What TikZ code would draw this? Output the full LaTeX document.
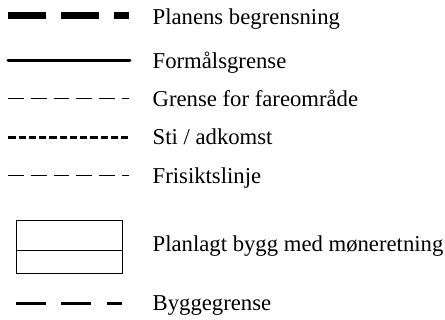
\documentclass[tikz,border=0pt]{standalone}
\usepackage{fontspec}
\setmainfont{Liberation Serif}
\begin{document}
\begin{tikzpicture}[x=1pt,y=-1pt,
  lbl/.style={anchor=base west,inner sep=0pt,font=\fontsize{22.7}{26}\selectfont},
  plangrense/.style={line width=7pt,dash pattern=on 37.7pt off 15.3pt},
  formal/.style={line width=3pt,line cap=round},
  faregrense/.style={line width=1pt,dash pattern=on 15.7pt off 7pt},
  sti/.style={line width=2.4pt,dash pattern=on 7.3pt off 2.95pt},
  frisikt/.style={line width=1pt,dash pattern=on 15.7pt off 7pt},
  bygg/.style={line width=1pt},
  byggegrense/.style={line width=3pt,dash pattern=on 30pt off 15.3pt}]
\useasboundingbox (0,0) rectangle (445,320);
% row 1
\coordinate (a1) at (8.3,16);   \coordinate (b1) at (129.3,16);
\draw[plangrense] (a1) -- (b1);
\node[lbl] (t1) at (152.5,24.5) {Planens begrensning};
% row 2
\coordinate (a2) at (8,61);   \coordinate (b2) at (130,61);
\draw[formal] (a2) -- (b2);
\node[lbl] (t2) at (152.5,69) {Formålsgrense};
% row 3
\coordinate (a3) at (8.3,99);   \coordinate (b3) at (129.3,99);
\draw[faregrense] (a3) -- (b3);
\node[lbl] (t3) at (152.5,107) {Grense for fareområde};
% row 4
\coordinate (a4) at (8.3,137.5);   \coordinate (b4) at (128.3,137.5);
\draw[sti] (a4) -- (b4);
\node[lbl] (t4) at (152.5,145) {Sti / adkomst};
% row 5
\coordinate (a5) at (8.3,176);   \coordinate (b5) at (129.3,176);
\draw[frisikt] (a5) -- (b5);
\node[lbl] (t5) at (152.5,183.5) {Frisiktslinje};
% row 6
\node[draw,bygg,minimum width=105.7pt,minimum height=53.3pt,inner sep=0pt,anchor=north west] (box) at (16,220) {};
\coordinate (m1) at (16,250.7); \coordinate (m2) at (121.7,250.7);
\draw[bygg] (m1) -- (m2);
\node[lbl] (t6) at (152.5,251.5) {Planlagt bygg med møneretning};
% row 7
\coordinate (a7) at (16,303.5);   \coordinate (b7) at (121.7,303.5);
\draw[byggegrense] (a7) -- (b7);
\node[lbl] (t7) at (152.5,311) {Byggegrense};
\end{tikzpicture}
\end{document}
